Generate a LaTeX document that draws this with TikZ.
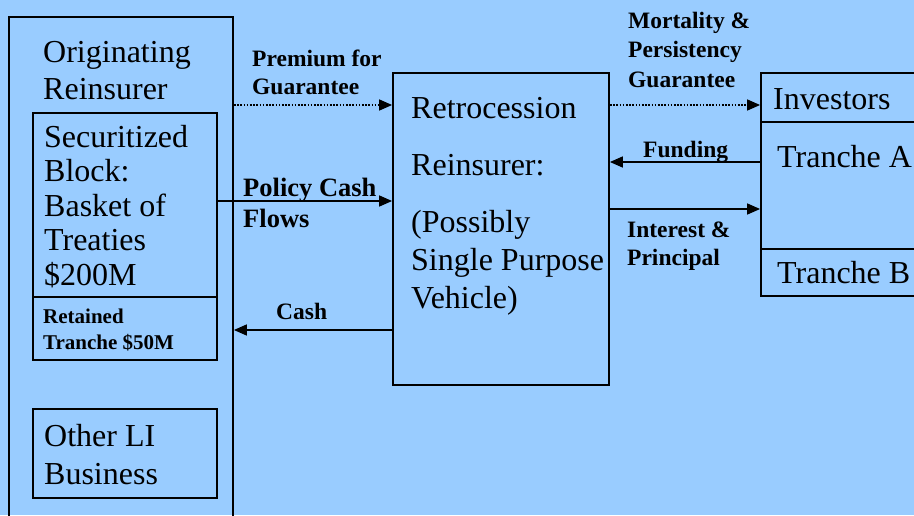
\documentclass[tikz,border=0pt]{standalone}
\usepackage{fontspec}
\setmainfont{Liberation Serif}
\usetikzlibrary{arrows.meta,fit}
\definecolor{bgblue}{RGB}{153,204,255}

\begin{document}
\begin{tikzpicture}[x=1pt,y=-1pt,
  frame/.style={draw,line width=1.8pt,inner sep=0pt,fill=none},
  txt/.style={inner sep=0pt,align=left,anchor=base west},
  big/.style={txt,font=\fontsize{32}{#1}\selectfont},
  lbl/.style={txt,font=\fontsize{23.5}{#1}\selectfont\bfseries},
  flow/.style={line width=1.5pt,-{Triangle[length=13pt,width=11pt]}},
  guar/.style={flow,dash pattern=on 1.6pt off 1.6pt}]

  % page and background
  \fill[bgblue] (0,0) rectangle (914,515);
  \useasboundingbox (0,0) rectangle (914,515);
  \clip (0,0) rectangle (914,515);

  % boxes
  \node[frame,fit={(9,17) (233,540)}] (orig) {};
  \node[frame,fit={(33,113) (217,297)}] (block) {};
  \node[frame,fit={(33,297) (217,360)}] (retained) {};
  \node[frame,fit={(33,409) (217,498)}] (other) {};
  \node[frame,fit={(393,73) (609,385)}] (retro) {};
  \node[frame,fit={(761,73) (940,296)}] (inv) {};
  \coordinate (divA) at (761,122);
  \coordinate (divB) at (761,249);
  \draw[line width=1.5pt] (divA) -- (divA -| 940,0);
  \draw[line width=1.5pt] (divB) -- (divB -| 940,0);

  % box texts (each anchored at the baseline of its last line)
  \node[big=37] (origtxt) at (43,99) {Originating\\Reinsurer};
  \node[big=34.5] (blocktxt) at (44,285) {Securitized\\Block:\\Basket of\\Treaties\\\$200M};
  \node[txt,font=\fontsize{21}{26}\selectfont\bfseries] (rettxt) at (43,349) {Retained\\Tranche \$50M};
  \node[big=38] (othertxt) at (44,484) {Other LI\\Business};
  \node[big=38] (retrotxt) at (411,308) {Retrocession\\[19pt]Reinsurer:\\[19pt](Possibly\\Single Purpose\\Vehicle)};
  \node[big=38] (invtxt) at (773,109) {Investors};
  \node[big=38] (tatxt) at (777,167) {Tranche A};
  \node[big=38] (tbtxt) at (777,283) {Tranche B};

  % flow levels
  \coordinate (yprem) at (0,105);
  \coordinate (ypol) at (0,201);
  \coordinate (ycash) at (0,330);
  \coordinate (yfund) at (0,162);
  \coordinate (yint) at (0,209);

  % connectors
  \draw[guar] (orig.east |- yprem) -- (retro.west |- yprem);
  \draw[flow] (block.east |- ypol) -- (retro.west |- ypol);
  \draw[flow] (retro.west |- ycash) -- (orig.east |- ycash);
  \draw[guar] (retro.east |- yprem) -- (inv.west |- yprem);
  \draw[flow] (inv.west |- yfund) -- (retro.east |- yfund);
  \draw[flow] (retro.east |- yint) -- (inv.west |- yint);

  % connector labels
  \node[lbl=28] (premlbl) at (252,94) {Premium for\\Guarantee};
  \node[txt,font=\fontsize{26.5}{31}\selectfont\bfseries] (pollbl) at (243,227) {Policy Cash\\Flows};
  \node[lbl=28] (cashlbl) at (276,319) {Cash};
  \node[lbl=29.5] (mortlbl) at (628,87) {Mortality \&\\Persistency\\Guarantee};
  \node[lbl=28] (fundlbl) at (643,157) {Funding};
  \node[lbl=28] (intlbl) at (627,265) {Interest \&\\Principal};
\end{tikzpicture}
\end{document}
